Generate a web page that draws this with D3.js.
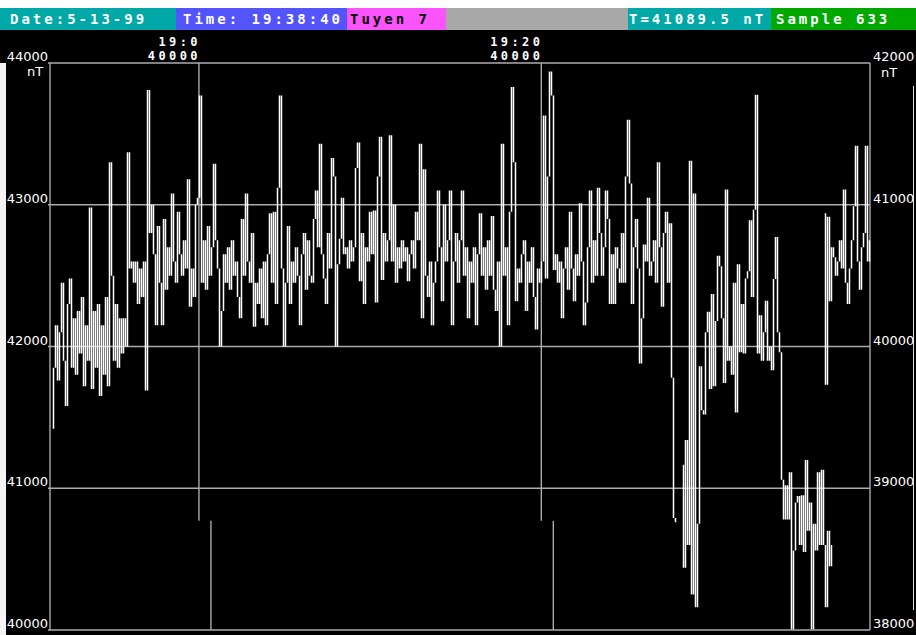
<!DOCTYPE html>
<html>
<head>
<meta charset="utf-8">
<script src="https://cdn.jsdelivr.net/npm/d3@7"></script>
<style>
  html, body { margin: 0; padding: 0; background: #fff; }
  svg { display: block; }
</style>
</head>
<body>
<svg id="chart" width="916" height="635"></svg>
<script>
// ---- status bar contents ----
const headerTexts  = ["Date:5-13-99", "Time: 19:38:40", "Tuyen 7", "", "T=41089.5 nT", "Sample 633"];

// ---- axes ----
const leftTicks  = [40000, 41000, 42000, 43000, 44000];
const rightTicks = [38000, 39000, 40000, 41000, 42000];
const unitLabel  = "nT";
const timeTicks      = [0, 20];            // minutes after 19:00
const timeTickLabels = ["19:0", "19:20"];
const timeTickBase   = ["40000", "40000"];

// ---- magnetometer readings (nT), one per sample, current sweep ----
const trace = [
  41420,41850,42150,41760,42100,42450,41900,41580,42300,42480,
  41850,42200,41800,42250,41950,42350,41720,42150,41900,42980,
  41700,42250,41850,42300,41650,42150,41800,42350,41720,43300,
  42500,41900,42300,41850,42200,41950,42200,42000,
  43370,42550,42600,42450,42600,42300,42550,42350,42600,41690,
  43810,42800,43000,42650,42150,42850,42450,42150,42900,42400,
  42700,42500,43080,42600,42450,42950,42650,42500,42750,42550,
  43180,42280,42550,42350,43000,43050,43770,42450,42750,42400,
  42850,42500,42700,43290,42750,42550,42000,42250,42650,42450,
  42700,42400,42750,42500,42600,42350,42200,42900,42500,43080,
  42600,42450,42800,42140,42450,42300,
  42550,42200,42600,42150,42650,42940,42450,42950,42300,43120,
  43770,42550,42000,42450,42850,42300,42600,42450,42700,42500,
  42150,42650,42800,42400,42750,42500,42450,42900,43100,42700,
  43430,42650,42480,42300,42800,42550,43330,43200,42000,42580,
  42760,43050,42650,42700,42550,42750,42600,42700,43260,43440,
  42460,42800,42300,42700,42600,42950,42650,42960,42310,43200,
  43480,42470,42800,42600,42750,43490,42600,43000,42450,42700,
  42550,42750,42600,42700,42460,42650,42750,42550,42950,42750,
  43430,42200,43250,42500,42350,42600,42150,42450,42600,43100,
  42700,42320,43000,42600,42750,43100,42150,42600,42800,42450,
  42750,43100,42500,42700,
  42200,42600,42450,42700,42150,42650,42940,42500,42700,42400,
  42750,42500,42920,42400,42250,42600,42000,43430,42500,42700,
  42150,42950,43830,43300,42320,42550,42450,42650,42750,42250,
  42600,42450,42700,42350,42120,42550,42450,42600,43630,42480,
  43200,43940,43770,42540,42650,42450,42600,42200,42550,42700,
  42400,42950,42550,42320,42650,42500,43010,42600,42150,42310,
  42700,43100,42450,42750,42500,43120,42800,42500,42700,43100,
  42900,42300,42650,42300,42700,42550,42450,42800,42450,43200,
  43600,43150,42300,42700,42900,42550,41880,42200,42720,42600,
  43050,42500,42600,42750,42450,43300,42700,42280,42800,42950,
  42450,42870,41780,40790,40760,
  null,null,41165,40440,41340,40600,43310,40250,43080,40160,
  40750,41860,41550,41520,42100,42245,41700,42370,41720,42180,
  42640,42566,42200,41743,43107,41900,42000,41800,42450,41535,
  42580,41960,42300,41950,42480,42530,42890,42350,42965,43776,
  41950,42220,41900,42100,42322,41900,42000,41833,42476,42772,
  42100,41960,41060,40780,41022,40780,41112,40005,40560,40900,
  40945,40600,40950,40550,41200,40700,40900,40005,40750,40560,
  41112,40600,41130,40600,40160,40700,40450,40600
];

// ---- readings still on screen from the previous sweep ----
const priorSweepStart = 386;   // sample index of its first reading
const priorSweep = [
  42940,41730,42915,42320,42700,42630,42500,42600,42750,42550,
  43107,42450,42300,42550,42750,42990,43416,42600,42400,42700,
  42800,43416,42600,42750
];

// ---- layout ----
const W = 916, H = 635;
const plot = { left: 50, right: 870, top: 63, bottom: 630 };
const gridColor = "#acacac";

const svg = d3.select("#chart");

svg.append("rect").attr("width", W).attr("height", H).attr("fill", "#000");
svg.append("rect").attr("width", W).attr("height", 8).attr("fill", "#fff");
// light window edge down the left side
svg.append("rect").attr("x", 0).attr("y", plot.top).attr("width", 6).attr("height", H - plot.top).attr("fill", "#f4f4f4");
// thin edge line down the right side
svg.append("line").attr("x1", 913.5).attr("x2", 913.5).attr("y1", 86).attr("y2", 610)
  .attr("stroke", "#dcdcdc").attr("stroke-width", 1);

// status bar
const headerEdges = [0, 176, 347, 446, 628, 771, 916];
const headerFills = ["#00a8a8", "#5454fc", "#fc54fc", "#a8a8a8", "#00a8a8", "#00a800"];
const headerInk   = ["#fff", "#fff", "#000", "#fff", "#fff", "#fff"];
const headerPad   = [10, 7, 3, 0, 1, 5];
const header = svg.append("g");
headerTexts.forEach((t, i) => {
  header.append("rect")
    .attr("x", headerEdges[i]).attr("y", 8)
    .attr("width", headerEdges[i + 1] - headerEdges[i]).attr("height", 22)
    .attr("fill", headerFills[i]);
  if (t) {
    header.append("text")
      .attr("x", headerEdges[i] + headerPad[i]).attr("y", 24)
      .attr("fill", headerInk[i])
      .attr("font-family", "DejaVu Sans Mono, monospace")
      .attr("font-weight", "bold")
      .attr("font-size", 14)
      .attr("letter-spacing", 3)
      .attr("xml:space", "preserve")
      .text(t);
  }
});

// scales
const y = d3.scaleLinear().domain([40000, 44000]).range([plot.bottom, plot.top]);
const yRight = d3.scaleLinear().domain([38000, 42000]).range([plot.bottom, plot.top]);
const xTime = d3.scaleLinear().domain([-8.7, 39.2]).range([plot.left, plot.right]);
const xSample = d3.scaleLinear().domain([0, 410]).range([plot.left + 1, plot.right + 1]);

// grid and frame
const grid = svg.append("g").attr("stroke", gridColor).attr("stroke-width", 1.4).attr("fill", "none");
grid.selectAll("line.h").data(leftTicks).join("line")
  .attr("x1", plot.left - 2).attr("x2", plot.right)
  .attr("y1", d => y(d)).attr("y2", d => y(d));
grid.append("line").attr("x1", plot.left).attr("x2", plot.left)
  .attr("y1", plot.top).attr("y2", plot.bottom);
grid.append("line").attr("x1", plot.right).attr("x2", plot.right)
  .attr("y1", plot.top).attr("y2", plot.bottom);

// time markers: upper stem, then a short offset stem to the bottom edge
const markerBreak = 40770;
timeTicks.forEach(t => {
  const xt = xTime(t);
  grid.append("line").attr("x1", xt).attr("x2", xt)
    .attr("y1", plot.top).attr("y2", y(markerBreak));
  grid.append("line").attr("x1", xt + 12).attr("x2", xt + 12)
    .attr("y1", y(markerBreak)).attr("y2", plot.bottom);
});

// axis labels
const labelFont = "DejaVu Sans, sans-serif";
const axisText = svg.append("g").attr("fill", "#fff")
  .attr("font-family", labelFont).attr("font-size", 13);
axisText.selectAll("text.l").data(leftTicks).join("text")
  .attr("x", plot.left - 2).attr("y", d => y(d) - 2)
  .attr("text-anchor", "end").text(d => d);
axisText.selectAll("text.r").data(rightTicks).join("text")
  .attr("x", plot.right + 3).attr("y", d => yRight(d) - 2)
  .text(d => d);
axisText.append("text").attr("x", 27).attr("y", 76).text(unitLabel);
axisText.append("text").attr("x", 881).attr("y", 77).text(unitLabel);

// time labels
const timeText = svg.append("g").attr("fill", "#fff")
  .attr("font-family", "DejaVu Sans Mono, monospace").attr("font-weight", "bold")
  .attr("font-size", 12).attr("letter-spacing", 3.4).attr("text-anchor", "end");
timeTicks.forEach((t, i) => {
  const xt = xTime(t);
  timeText.append("text").attr("x", xt + 2).attr("y", 46).text(timeTickLabels[i]);
  timeText.append("text").attr("x", xt + 2).attr("y", 60).text(timeTickBase[i]);
});

// readings: one vertical stroke per sample, from the previous reading to this one
function strokePath(values, start) {
  let d = "";
  for (let i = 1; i < values.length; i++) {
    const a = values[i - 1], b = values[i];
    if (a == null || b == null) continue;
    const xs = Math.round(xSample(start + i)) + 0.5;
    d += `M${xs},${y(a)}V${y(b)}`;
  }
  return d;
}
const traces = svg.append("g").attr("fill", "none").attr("stroke", "#fff").attr("stroke-width", 1.5);
traces.append("path").attr("d", strokePath(priorSweep, priorSweepStart));
traces.append("path").attr("d", strokePath(trace, 0));
</script>
</body>
</html>
